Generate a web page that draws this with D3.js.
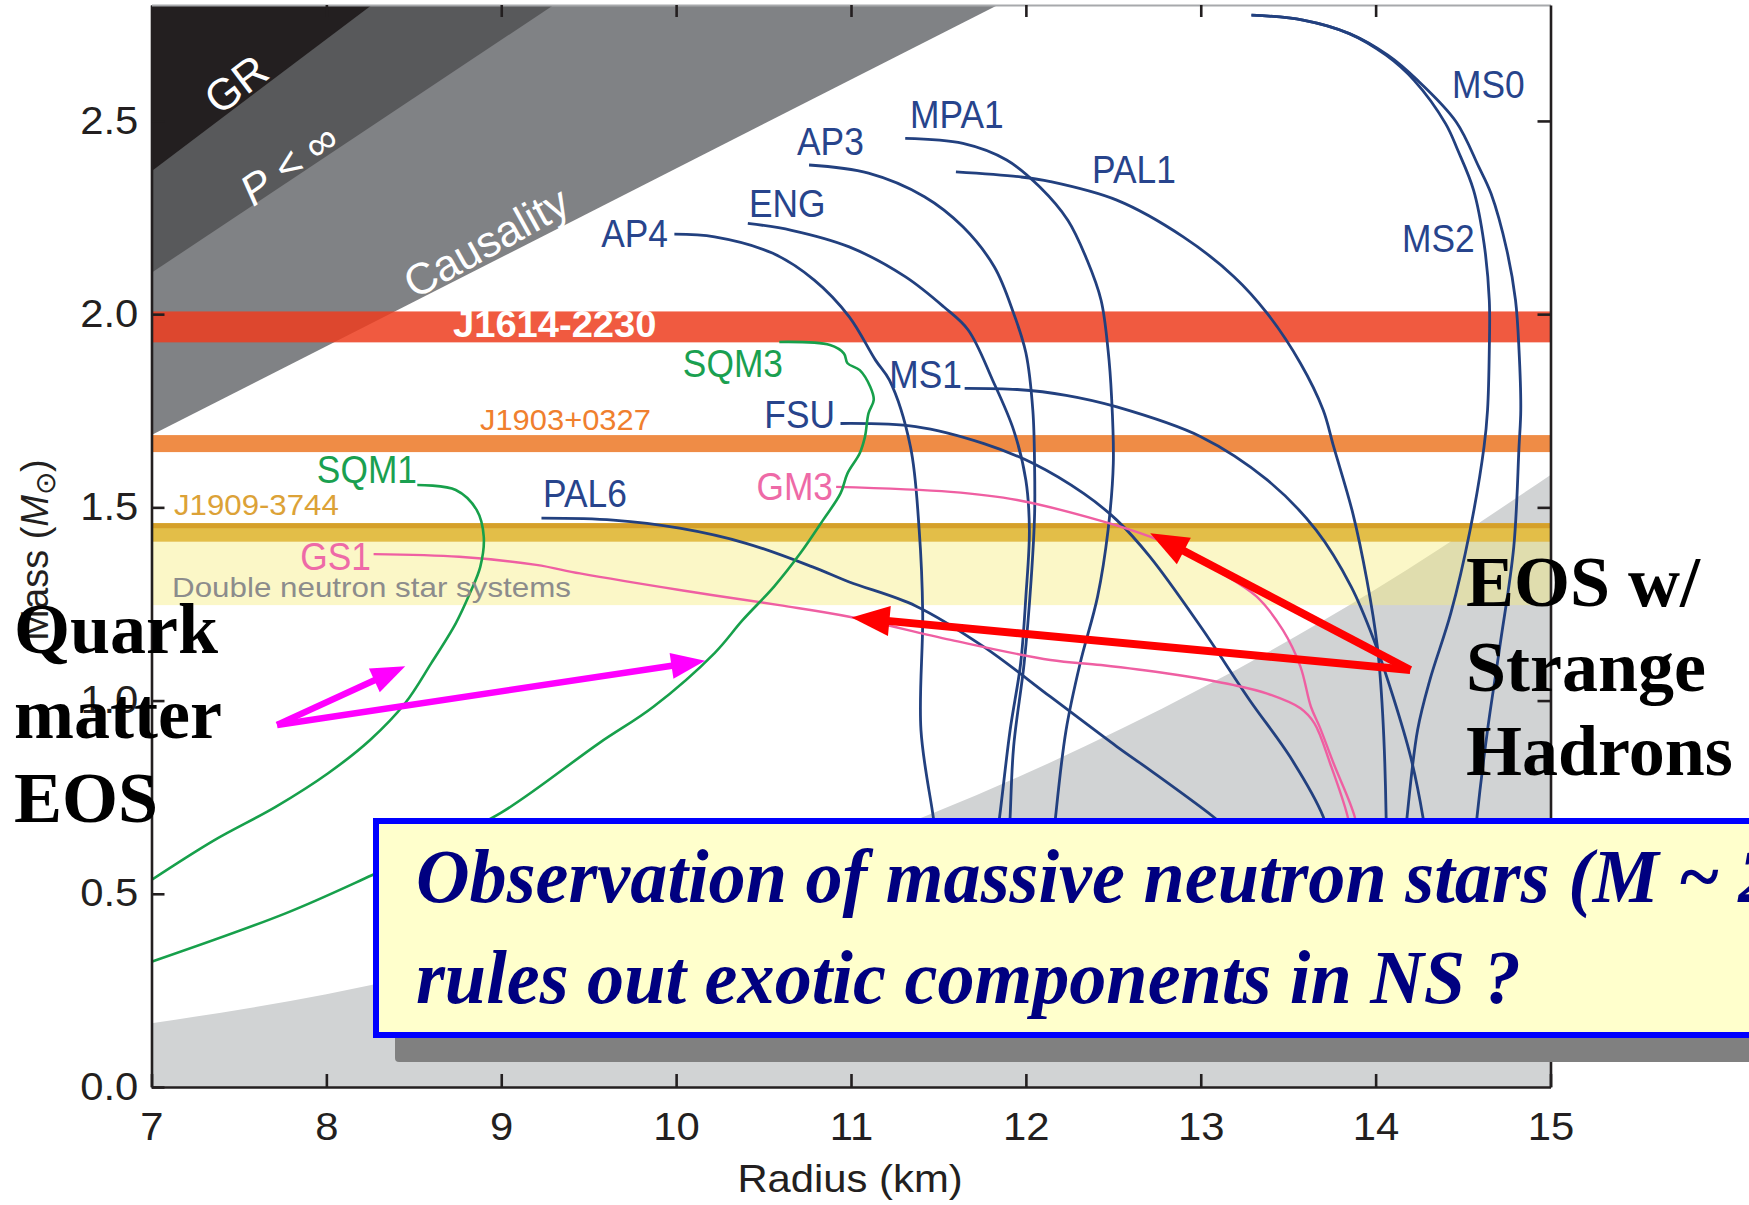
<!DOCTYPE html>
<html><head><meta charset="utf-8">
<script src="https://cdn.jsdelivr.net/npm/d3@7"></script>
<style>
html,body{margin:0;padding:0;background:#fff;overflow:hidden}
svg{display:block}
</style></head><body>
<svg id="c" width="1749" height="1205"></svg>
<script>
(function(){
// ================= DATA =================
const xTicks = [7, 8, 9, 10, 11, 12, 13, 14, 15];
const yTicks = [0, 0.5, 1, 1.5, 2, 2.5];
const yTickLabels = ["0.0", "0.5", "1.0", "1.5", "2.0", "2.5"];

// excluded regions: boundary lines [R (km), M (Msun)]
const grEdge = [[7, 2.37], [8.26, 2.8]];
const pInfEdge = [[7, 2.107], [9.3, 2.8]];
const causalityEdge = [[7, 1.687], [11.84, 2.8]];
const rotationEdge = [[7, 0.165], [8, 0.24], [9, 0.342], [10, 0.47], [11, 0.625], [12, 0.811], [13, 1.031], [14, 1.288], [15, 1.584]];

// pulsar mass bands [Mlow, Mhigh]
const bandNames = ["J1614-2230", "J1903+0327", "J1909-3744", "Double neutron star systems"];
const bandJ1614 = [1.927, 2.007];
const bandJ1903 = [1.643, 1.687];
const bandJ1909 = [1.411, 1.459];
const bandDNS = [1.247, 1.411];

// mass-radius curves [R (km), M (Msun)]
const AP4 = [[9.99,2.207],[10.22,2.200],[10.55,2.158],[10.79,2.088],[10.99,1.993],[11.14,1.881],[11.22,1.829],[11.34,1.657],[11.39,1.441],[11.41,1.226],[11.40,0.924],[11.47,0.70],[11.5,0.6]];
const ENG = [[10.41,2.235],[10.66,2.217],[10.99,2.174],[11.31,2.097],[11.53,2.019],[11.67,1.959],[11.81,1.829],[11.93,1.70],[12.0,1.57],[12.02,1.441],[12.0,1.269],[11.97,1.096],[11.91,0.924],[11.85,0.70],[11.82,0.6]];
const AP3 = [[10.76,2.386],[11.10,2.365],[11.42,2.304],[11.64,2.226],[11.82,2.122],[11.93,2.002],[12.0,1.9],[12.04,1.75],[12.05,1.6],[12.05,1.484],[12.03,1.312],[11.99,1.096],[11.93,0.881],[11.91,0.70],[11.9,0.6]];
const MPA1 = [[11.31,2.455],[11.64,2.442],[11.89,2.399],[12.08,2.329],[12.24,2.243],[12.35,2.140],[12.43,2.036],[12.47,1.907],[12.49,1.786],[12.50,1.614],[12.47,1.441],[12.41,1.269],[12.31,1.096],[12.23,0.924],[12.17,0.70],[12.15,0.6]];
const PAL1 = [[11.60,2.368],[11.97,2.355],[12.14,2.343],[12.52,2.295],[12.90,2.20],[13.19,2.097],[13.38,2.002],[13.57,1.873],[13.70,1.752],[13.76,1.657],[13.87,1.484],[13.95,1.312],[14.01,1.139],[14.04,0.967],[14.06,0.70],[14.06,0.6]];
const MS1 = [[11.65,1.808],[11.95,1.805],[12.23,1.790],[12.52,1.760],[13.0,1.683],[13.38,1.571],[13.66,1.441],[13.86,1.295],[13.99,1.157],[14.10,1.01],[14.20,0.855],[14.27,0.70],[14.3,0.6]];
const FSU = [[10.94,1.717],[11.37,1.709],[11.76,1.665],[12.04,1.614],[12.33,1.536],[12.52,1.467],[12.71,1.372],[13.0,1.191],[13.28,1.001],[13.51,0.855],[13.70,0.70],[13.76,0.6]];
const PAL6 = [[9.23,1.472],[9.64,1.467],[10.02,1.446],[10.40,1.407],[10.78,1.346],[10.99,1.307],[11.37,1.245],[11.76,1.139],[12.14,1.01],[12.52,0.881],[12.71,0.82],[13.07,0.70],[13.2,0.65]];
const GM3 = [[10.915,1.553],[11.57,1.540],[11.95,1.519],[12.43,1.465],[12.71,1.424],[12.93,1.381],[13.09,1.338],[13.32,1.269],[13.47,1.182],[13.57,1.088],[13.63,0.984],[13.68,0.932],[13.76,0.837],[13.88,0.70],[13.92,0.6]];
const GS1 = [[8.27,1.379],[8.76,1.372],[9.20,1.351],[9.45,1.329],[10.02,1.286],[10.59,1.247],[10.99,1.217],[11.57,1.157],[12.14,1.105],[12.43,1.092],[12.81,1.07],[13.19,1.04],[13.38,1.018],[13.57,0.98],[13.65,0.941],[13.74,0.837],[13.84,0.70],[13.88,0.6]];
const SQM1 = [[8.52,1.558],[8.74,1.545],[8.86,1.493],[8.90,1.424],[8.88,1.346],[8.82,1.277],[8.74,1.20],[8.60,1.097],[8.45,0.993],[8.25,0.898],[8.01,0.812],[7.71,0.725],[7.36,0.639],[7.0,0.536]];
const SQM3 = [[10.59,1.928],[10.88,1.920],[10.96,1.898],[10.98,1.873],[11.05,1.855],[11.11,1.812],[11.13,1.778],[11.10,1.743],[11.08,1.683],[11.05,1.640],[10.98,1.588],[10.94,1.536],[10.84,1.467],[10.71,1.381],[10.56,1.295],[10.38,1.208],[10.22,1.123],[9.87,0.984],[9.56,0.89],[9.0,0.71],[8.6,0.62],[8.26,0.548],[7.77,0.45],[7.0,0.324]];
const MS0 = [[13.29,2.774],[13.585,2.761],[13.85,2.726],[14.07,2.670],[14.24,2.605],[14.46,2.498],[14.59,2.381],[14.66,2.312],[14.75,2.166],[14.80,2.036],[14.82,1.907],[14.83,1.752],[14.82,1.657],[14.79,1.398],[14.71,1.139],[14.64,0.924],[14.58,0.70],[14.56,0.6]];
const MS2 = [[13.29,2.774],[13.585,2.761],[13.85,2.726],[14.06,2.670],[14.22,2.605],[14.40,2.493],[14.47,2.424],[14.56,2.321],[14.62,2.183],[14.65,2.036],[14.65,1.907],[14.64,1.752],[14.62,1.657],[14.54,1.441],[14.43,1.226],[14.31,1.053],[14.24,0.924],[14.18,0.70],[14.16,0.6]];

const curveNames = ["AP4","ENG","AP3","MPA1","PAL1","MS1","FSU","PAL6","MS0","MS2","GM3","GS1","SQM1","SQM3"];
const curveData = {AP4, ENG, AP3, MPA1, PAL1, MS1, FSU, PAL6, MS0, MS2, GM3, GS1, SQM1, SQM3};
const curveKind = {AP4:"n",ENG:"n",AP3:"n",MPA1:"n",PAL1:"n",MS1:"n",FSU:"n",PAL6:"n",MS0:"n",MS2:"n",GM3:"h",GS1:"h",SQM1:"q",SQM3:"q"};

// annotation arrows [from (R,M), to (R,M)]
const quarkArrows = [[[7.718,0.937],[8.451,1.089]], [[7.718,0.937],[10.166,1.103]]];
const hadronArrows = [[[14.198,1.079],[12.711,1.433]], [[14.198,1.079],[11.003,1.215]]];

// ================= DRAW =================
const svg = d3.select("#c");
const x = d3.scaleLinear().domain([7, 15]).range([151.5, 1550.5]);
const y = d3.scaleLinear().domain([0, 2.8]).range([1087, 5]);
const SANS = "'Liberation Sans', Arial, Helvetica, sans-serif";
const SERIF = "'Liberation Serif', 'Times New Roman', serif";

function T(parent, px, py, s, o = {}) {
  let tr = `translate(${px},${py})`;
  if (o.rot) tr += ` rotate(${o.rot})`;
  tr += ` scale(${o.sx || 1},1)`;
  const t = parent.append("text")
    .attr("transform", tr)
    .attr("font-family", o.ff || SANS)
    .attr("font-size", o.fs || 38)
    .attr("font-weight", o.fw || "normal")
    .attr("font-style", o.fst || "normal")
    .attr("fill", o.fill || "#231f20")
    .attr("text-anchor", o.anchor || "start")
    .text(s);
  if (o.db) t.attr("dominant-baseline", o.db);
  return t;
}

svg.append("defs").append("clipPath").attr("id", "plotclip")
  .append("rect").attr("x", x(7)).attr("y", y(2.8)).attr("width", x(15) - x(7)).attr("height", y(0) - y(2.8));

const plot = svg.append("g").attr("clip-path", "url(#plotclip)");

function wedge(edge, fill) {
  const pts = [edge[0], edge[1], [7, 2.8]];
  plot.append("path")
    .attr("d", "M" + pts.map(p => [x(p[0]), y(p[1])].join(",")).join("L") + "Z")
    .attr("fill", fill);
}
wedge(causalityEdge, "#808285");
wedge(pInfEdge, "#58595b");
wedge(grEdge, "#231f20");

plot.append("path")
  .datum(rotationEdge)
  .attr("d", d3.area().x(d => x(d[0])).y0(y(0)).y1(d => y(d[1])).curve(d3.curveMonotoneX))
  .attr("fill", "#d1d3d4");

function band(b, fill, op) {
  plot.append("rect").attr("x", x(7)).attr("width", x(15) - x(7))
    .attr("y", y(b[1])).attr("height", y(b[0]) - y(b[1]))
    .attr("fill", fill).attr("fill-opacity", op);
}
band(bandDNS, "rgb(246,236,122)", 0.42);
band(bandJ1909, "#e3be48", 1);
plot.append("rect").attr("x", x(7)).attr("width", x(15) - x(7))
  .attr("y", y(bandJ1909[1])).attr("height", 5).attr("fill", "#d5a02a");
band(bandJ1903, "#ef8c46", 1);
band(bandJ1614, "rgb(237,61,30)", 0.85);

T(svg, 453, 337, bandNames[0], {fs: 37, fw: "bold", fill: "#ffffff", sx: 1.03});
T(svg, 480, 430, bandNames[1], {fs: 30, fill: "#f07f2e", sx: 1.03});
T(svg, 174, 515, bandNames[2], {fs: 30, fill: "#dca237", sx: 1.04});
T(svg, 172, 597, bandNames[3], {fs: 28, fill: "#8c8c8c", sx: 1.12});

T(svg, 236, 84, "GR", {fs: 44, fill: "#fff", rot: -37, anchor: "middle", db: "central"});
const pl = T(svg, 289, 164, "", {fs: 43, fill: "#fff", rot: -35, anchor: "middle", db: "central"});
pl.append("tspan").attr("font-style", "italic").text("P");
pl.append("tspan").text(" < ∞");
T(svg, 486, 242, "Causality", {fs: 44, fill: "#fff", rot: -29, anchor: "middle", db: "central"});

const kindColor = {n: "#22407f", h: "#ef5fa2", q: "#17a04b"};
const kindWidth = {n: 2.8, h: 2.4, q: 2.6};
const line = d3.line().x(d => x(d[0])).y(d => y(d[1])).curve(d3.curveCatmullRom.alpha(0.5));
curveNames.forEach(n => {
  plot.append("path").datum(curveData[n]).attr("d", line)
    .attr("fill", "none").attr("stroke", kindColor[curveKind[n]])
    .attr("stroke-width", kindWidth[curveKind[n]]).attr("stroke-linejoin", "round");
});

const labelLayout = {
  AP4: [668, 247, "end"], ENG: [749, 217, "start"], AP3: [797, 155, "start"], MPA1: [910, 128, "start"],
  PAL1: [1092, 183, "start"], MS1: [962, 388, "end"], FSU: [835, 428, "end"], GM3: [833, 500, "end"],
  GS1: [371, 570, "end"], SQM1: [417, 483, "end"], SQM3: [783, 377, "end"], PAL6: [543, 507, "start"],
  MS0: [1452, 98, "start"], MS2: [1402, 252, "start"]
};
const labelColor = {n: "#27448c", h: "#ee6aa7", q: "#1aa050"};
curveNames.forEach(n => {
  const L = labelLayout[n];
  T(svg, L[0], L[1], n, {fs: 38, fill: labelColor[curveKind[n]], anchor: L[2], sx: 0.93});
});

const axG = svg.append("g");
const fmtY = d => yTickLabels[yTicks.indexOf(d)];
const axLeft = axG.append("g").attr("transform", `translate(${x(7)},0)`)
  .call(d3.axisLeft(y).tickValues(yTicks).tickFormat(fmtY).tickSizeInner(-13).tickSizeOuter(0).tickPadding(12));
const axBottom = axG.append("g").attr("transform", `translate(0,${y(0)})`)
  .call(d3.axisBottom(x).tickValues(xTicks).tickFormat(d3.format("d")).tickSizeInner(-13).tickSizeOuter(0).tickPadding(26));
const axTop = axG.append("g").attr("transform", `translate(0,${y(2.8)})`)
  .call(d3.axisTop(x).tickValues(xTicks.slice(1, -1)).tickFormat("").tickSizeInner(-12).tickSizeOuter(0));
const axRight = axG.append("g").attr("transform", `translate(${x(15)},0)`)
  .call(d3.axisRight(y).tickValues(yTicks.slice(1)).tickFormat("").tickSizeInner(-13).tickSizeOuter(0));
[axLeft, axBottom, axRight].forEach(g => {
  g.select(".domain").attr("stroke", "#231f20").attr("stroke-width", 2.6);
  g.selectAll(".tick line").attr("stroke", "#231f20").attr("stroke-width", 2.6);
});
axTop.select(".domain").attr("stroke", "#a7a9ac").attr("stroke-width", 2);
axTop.selectAll(".tick line").attr("stroke", "#231f20").attr("stroke-width", 2.6);
[axLeft, axBottom].forEach(g => {
  g.selectAll(".tick text").attr("font-family", SANS).attr("font-size", 38).attr("fill", "#231f20")
    .attr("transform", "scale(1.1,1)");
});

T(svg, 850, 1192, "Radius (km)", {fs: 38, anchor: "middle", sx: 1.1});
const ml = T(svg, 48, 550, "", {fs: 38, anchor: "middle", rot: -90});
ml.append("tspan").text("Mass (");
ml.append("tspan").attr("font-style", "italic").text("M");
ml.append("tspan").attr("font-size", 28).attr("dy", 7).text("⊙");
ml.append("tspan").attr("dy", -7).text(")");

function arrow(a, color, w, hl, hw) {
  const p0 = [x(a[0][0]), y(a[0][1])], p1 = [x(a[1][0]), y(a[1][1])];
  const dx = p1[0] - p0[0], dy = p1[1] - p0[1], L = Math.hypot(dx, dy);
  const ux = dx / L, uy = dy / L;
  const bx = p1[0] - ux * hl, by = p1[1] - uy * hl;
  svg.append("line").attr("x1", p0[0]).attr("y1", p0[1]).attr("x2", bx + ux * 2).attr("y2", by + uy * 2)
    .attr("stroke", color).attr("stroke-width", w).attr("stroke-linecap", "butt");
  svg.append("path").attr("d", `M${p1[0]},${p1[1]}L${bx - uy * hw},${by + ux * hw}L${bx + uy * hw},${by - ux * hw}Z`)
    .attr("fill", color);
}
quarkArrows.forEach(a => arrow(a, "#ff00ff", 6.5, 34, 13));
hadronArrows.forEach(a => arrow(a, "#ff0000", 8, 38, 15));

["Quark", "matter", "EOS"].forEach((s, i) => T(svg, 14, 653 + i * 84.5, s, {ff: SERIF, fs: 72, fw: "bold", fill: "#000"}));
["EOS w/", "Strange", "Hadrons"].forEach((s, i) => T(svg, 1466, 606 + i * 84.5, s, {ff: SERIF, fs: 72, fw: "bold", fill: "#000"}));

svg.append("rect").attr("x", 395).attr("y", 840).attr("width", 1400).attr("height", 222).attr("rx", 4).attr("fill", "#808080");
svg.append("rect").attr("x", 376).attr("y", 821).attr("width", 1420).attr("height", 214)
  .attr("fill", "#ffffcc").attr("stroke", "#0000ff").attr("stroke-width", 6);
const l2 = T(svg, 416, 1003, "rules out exotic components in NS ?", {ff: SERIF, fs: 76, fw: "bold", fst: "italic", fill: "#000080"});
const l1 = T(svg, 416, 902, "Observation of massive neutron stars (M ~ 2M⊙)", {ff: SERIF, fs: 76, fw: "bold", fst: "italic", fill: "#000080"});
const sx = 1105 / l2.node().getComputedTextLength();
l2.attr("transform", `translate(416,1003) scale(${sx},1)`);
l1.attr("transform", `translate(416,902) scale(${sx},1)`);
})();
</script>
</body></html>
